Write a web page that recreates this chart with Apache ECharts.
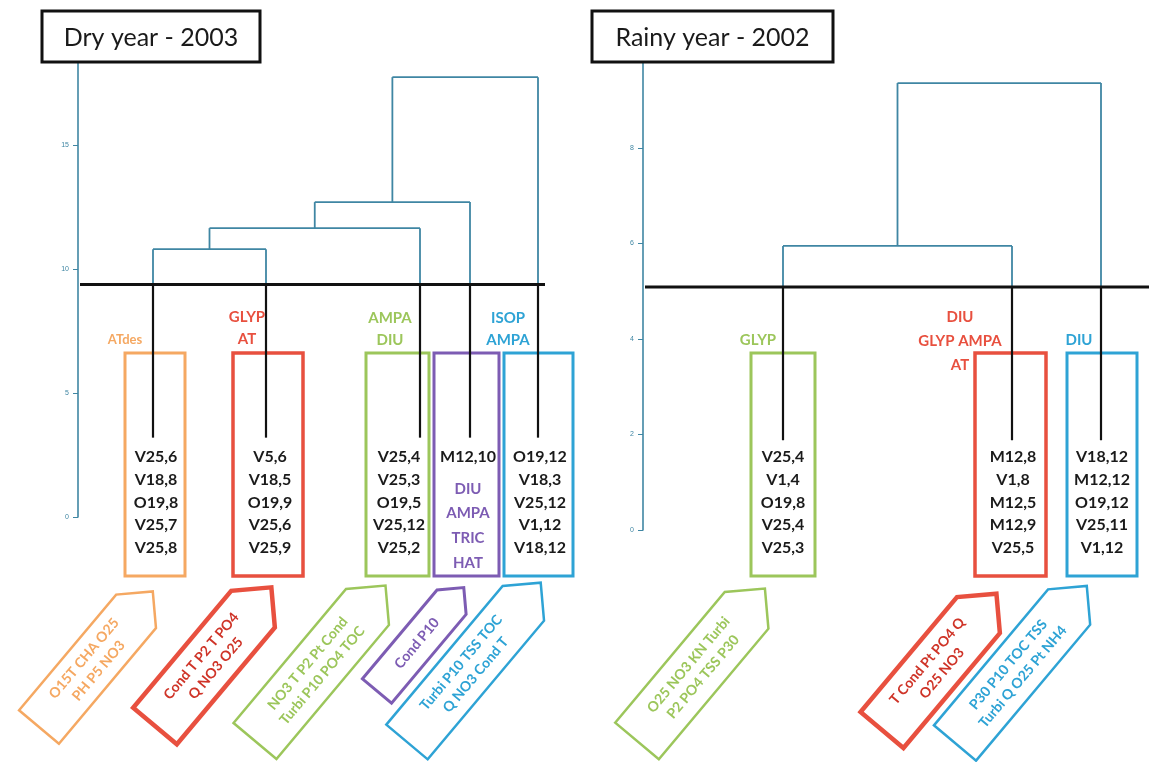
<!DOCTYPE html>
<html><head><meta charset="utf-8">
<script src="https://cdn.jsdelivr.net/npm/echarts@6/dist/echarts.min.js"></script>
<style>html,body{margin:0;padding:0;background:#fff}#c{width:1149px;height:762px}</style>
</head><body><div id="c"></div>
<script>
// ---------- DATA ----------
// Dry year 2003 dendrogram
const dryTicks = [0, 5, 10, 15];
const dryLeafX = [75, 188, 342, 392, 460];          // leaf order coordinate
const dryMerges = [[0, 1], [5, 2], [6, 3], [7, 4]];  // node indices merged
const dryHeights = [10.8, 11.65, 12.7, 17.74];       // merge heights
const dryCut = 9.38;
const dryLeafBottom = 3.2;

// Rainy year 2002 dendrogram
const rainyTicks = [0, 2, 4, 6, 8];
const rainyLeafX = [140, 369, 458];
const rainyMerges = [[0, 1], [3, 2]];
const rainyHeights = [5.95, 9.36];
const rainyCut = 5.09;
const rainyLeafBottom = 1.88;

// Cluster members
const dryMembers = [
  ['V25,6', 'V18,8', 'O19,8', 'V25,7', 'V25,8'],
  ['V5,6', 'V18,5', 'O19,9', 'V25,6', 'V25,9'],
  ['V25,4', 'V25,3', 'O19,5', 'V25,12', 'V25,2'],
  ['M12,10'],
  ['O19,12', 'V18,3', 'V25,12', 'V1,12', 'V18,12']
];
const dryPurpleExtra = ['DIU', 'AMPA', 'TRIC', 'HAT'];
const dryPesticides = [['ATdes'], ['GLYP', 'AT'], ['AMPA', 'DIU'], [], ['ISOP', 'AMPA']];
const dryParams = [
  ['O15T CHA O25', 'PH P5 NO3'],
  ['Cond T P2 T PO4', 'Q NO3 O25'],
  ['NO3 T P2 Pt Cond', 'Turbi P10 PO4 TOC'],
  ['Cond P10'],
  ['Turbi P10 TSS TOC', 'Q NO3 Cond T']
];
const rainyMembers = [
  ['V25,4', 'V1,4', 'O19,8', 'V25,4', 'V25,3'],
  ['M12,8', 'V1,8', 'M12,5', 'M12,9', 'V25,5'],
  ['V18,12', 'M12,12', 'O19,12', 'V25,11', 'V1,12']
];
const rainyPesticides = [['GLYP'], ['DIU', 'GLYP AMPA', 'AT'], ['DIU']];
const rainyParams = [
  ['O25 NO3 KN Turbi', 'P2 PO4 TSS P30'],
  ['T Cond Pt PO4 Q', 'O25 NO3'],
  ['P30 P10 TOC TSS', 'Turbi Q O25 Pt NH4']
];

// ---------- STYLE ----------
const TEAL = '#3f86a3';
const ORANGE = '#f5a862', RED = '#e8503f', GREEN = '#9cc65b', PURPLE = '#7d5cb3', BLUE = '#2ea3d5';
const FONT = 'Lato, "Open Sans", sans-serif';

function buildTree(leafX, merges, heights, cut, bottom, cutFrom, cutTo) {
  const nodes = leafX.map(x => ({ x: x, h: cut, leaf: true }));
  const segs = [];
  leafX.forEach(x => segs.push([x, bottom, x, cut, 1]));
  merges.forEach((m, i) => {
    const a = nodes[m[0]], b = nodes[m[1]], h = heights[i];
    segs.push([a.x, a.h, a.x, h, 0]);
    segs.push([b.x, b.h, b.x, h, 0]);
    segs.push([a.x, h, b.x, h, 0]);
    nodes.push({ x: (a.x + b.x) / 2, h: h, leaf: false });
  });
  segs.push([cutFrom, cut, cutTo, cut, 2]);
  return segs;
}
const drySegs = buildTree(dryLeafX, dryMerges, dryHeights, dryCut, dryLeafBottom, 2, 467);
const rainySegs = buildTree(rainyLeafX, rainyMerges, rainyHeights, rainyCut, rainyLeafBottom, 2, 506);

function renderSeg(params, api) {
  const p1 = api.coord([api.value(0), api.value(1)]);
  const p2 = api.coord([api.value(2), api.value(3)]);
  const t = api.value(4);
  const style = t === 0 ? { stroke: TEAL, lineWidth: 1.8 } :
                t === 1 ? { stroke: '#111', lineWidth: 2.2 } :
                          { stroke: '#111', lineWidth: 3 };
  return { type: 'line', shape: { x1: p1[0], y1: p1[1], x2: p2[0], y2: p2[1] }, style: style };
}

function yAxisDef(grid, max, ticks) {
  return {
    type: 'value', gridIndex: grid, min: 0, max: max,
    axisLine: { show: true, lineStyle: { color: TEAL, width: 1.6 } },
    axisTick: { show: true, customValues: ticks, length: 5, lineStyle: { color: TEAL } },
    axisLabel: { customValues: ticks, fontSize: 7, color: TEAL, margin: 9 },
    splitLine: { show: false }
  };
}

// ---------- GRAPHICS ----------
const g = [];
function titleBox(x, y, w, h, text) {
  g.push({ type: 'rect', shape: { x: x, y: y, width: w, height: h }, style: { fill: '#fff', stroke: '#111', lineWidth: 3 }, z: 10 });
  g.push({ type: 'text', x: x + w / 2, y: y + h / 2 + 1, style: { text: text, fill: '#1a1a1a', font: '25px ' + FONT, align: 'center', verticalAlign: 'middle' }, z: 11 });
}
function box(x1, x2, color, lw) {
  g.push({ type: 'rect', shape: { x: x1, y: 353, width: x2 - x1, height: 223 }, style: { fill: 'rgba(255,255,255,0)', stroke: color, lineWidth: lw || 3 }, z: 1 });
}
function list(cx, y0, step, items, color, size) {
  items.forEach((t, i) => g.push({ type: 'text', x: cx, y: y0 + i * step, style: { text: t, fill: color, font: 'bold ' + (size || 16) + 'px ' + FONT, align: 'center', verticalAlign: 'middle' }, z: 12 }));
}
function arrow(tx, ty, L, W, color, lw, lines, textColor) {
  const th = 50 * Math.PI / 180;
  const ux = Math.cos(th), uy = -Math.sin(th), nx = Math.sin(th), ny = Math.cos(th);
  const hb = L - W / 2;
  const pts = [
    [tx - nx * W / 2, ty - ny * W / 2],
    [tx + ux * hb - nx * W / 2, ty + uy * hb - ny * W / 2],
    [tx + ux * L, ty + uy * L],
    [tx + ux * hb + nx * W / 2, ty + uy * hb + ny * W / 2],
    [tx + nx * W / 2, ty + ny * W / 2]
  ];
  g.push({ type: 'polygon', shape: { points: pts }, style: { fill: '#fff', stroke: color, lineWidth: lw }, z: 5 });
  const c = 0.46 * L;
  g.push({ type: 'text', x: tx + ux * c, y: ty + uy * c, rotation: th,
    style: { text: lines.join('\n'), fill: textColor || color, font: 'bold 14px ' + FONT, align: 'center', verticalAlign: 'middle', lineHeight: 19 }, z: 6 });
}

titleBox(42, 11, 218, 51, 'Dry year - 2003');
titleBox(592, 11, 241, 51, 'Rainy year - 2002');

// Dry year boxes
box(125, 185, ORANGE); box(233, 303, RED, 3.5); box(366, 429, GREEN); box(434, 499, PURPLE); box(504, 573, BLUE);
list(156, 457, 22.7, dryMembers[0], '#1a1a1a');
list(270, 457, 22.7, dryMembers[1], '#1a1a1a');
list(399, 457, 22.7, dryMembers[2], '#1a1a1a');
list(468, 457, 22.7, dryMembers[3], '#1a1a1a');
list(468, 489, 24.6, dryPurpleExtra, PURPLE, 15);
list(540, 457, 22.7, dryMembers[4], '#1a1a1a');
list(125, 340, 22, dryPesticides[0], ORANGE, 13);
list(247, 317, 22, dryPesticides[1], RED, 15);
list(390, 318, 22, dryPesticides[2], GREEN, 15);
list(508, 318, 22, dryPesticides[4], BLUE, 15);

// Rainy year boxes
box(751, 815, GREEN); box(975, 1046, RED, 3.5); box(1067, 1137, BLUE);
list(783, 457, 22.7, rainyMembers[0], '#1a1a1a');
list(1013, 457, 22.7, rainyMembers[1], '#1a1a1a');
list(1102, 457, 22.7, rainyMembers[2], '#1a1a1a');
list(758, 340, 24, rainyPesticides[0], GREEN, 15);
list(960, 317, 24, rainyPesticides[1], RED, 15);
list(1079, 340, 24, rainyPesticides[2], BLUE, 15);

// Parameter arrows
arrow(39, 727, 177, 52, ORANGE, 2.5, dryParams[0]);
arrow(155, 726, 181, 57, RED, 4.5, dryParams[1], '#cf3428');
arrow(255, 741, 203, 56, GREEN, 2.5, dryParams[2]);
arrow(377, 691, 135, 38, PURPLE, 3, dryParams[3]);
arrow(407, 742, 208, 54, BLUE, 2.5, dryParams[4]);
arrow(637, 741, 199, 57, GREEN, 2.5, rainyParams[0]);
arrow(882, 730, 178, 56, RED, 4.5, rainyParams[1], '#cf3428');
arrow(955, 743, 205, 55, BLUE, 2.5, rainyParams[2]);

const chart = echarts.init(document.getElementById('c'), null, { renderer: 'canvas' });
chart.setOption({
  backgroundColor: '#fff',
  animation: false,
  grid: [
    { left: 78, top: 62, width: 470, height: 455 },
    { left: 643, top: 63, width: 506, height: 467 }
  ],
  xAxis: [
    { type: 'value', gridIndex: 0, min: 0, max: 470, show: false },
    { type: 'value', gridIndex: 1, min: 0, max: 506, show: false }
  ],
  yAxis: [yAxisDef(0, 18.35, dryTicks), yAxisDef(1, 9.78, rainyTicks)],
  series: [
    { type: 'custom', xAxisIndex: 0, yAxisIndex: 0, renderItem: renderSeg, data: drySegs, encode: { x: [0, 2], y: [1, 3] }, clip: false, z: 3 },
    { type: 'custom', xAxisIndex: 1, yAxisIndex: 1, renderItem: renderSeg, data: rainySegs, encode: { x: [0, 2], y: [1, 3] }, clip: false, z: 3 }
  ],
  graphic: g
});
</script></body></html>
